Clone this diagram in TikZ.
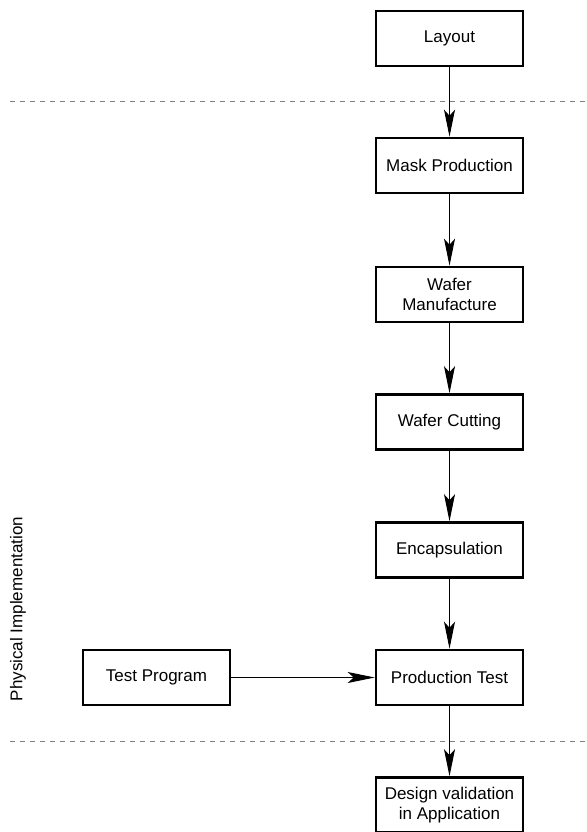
\documentclass[tikz,border=0pt]{standalone}
\usepackage{fontspec}
\setmainfont{Liberation Sans}
\usetikzlibrary{arrows.meta}
\begin{document}
\begin{tikzpicture}[x=1pt,y=-1pt,
  stage/.style={draw, line width=2.6pt, minimum width=147pt, minimum height=55pt,
    inner sep=2pt, align=center, font=\fontsize{17}{20}\selectfont},
  flow/.style={line width=1pt, -{Stealth[length=27pt,width=11pt,inset=6pt]}},
  divider/.style={gray, line width=1pt, dash pattern=on 5pt off 5pt}]
\useasboundingbox (0,0) rectangle (586,832);

% phase boundaries
\coordinate (d1a) at (10,102);
\coordinate (d1b) at (586,102);
\coordinate (d2a) at (10,741);
\coordinate (d2b) at (586,741);
\draw[divider] (d1a) -- (d1b);
\draw[divider] (d2a) -- (d2b);

% flow stages
\node[stage] (layout) at (449.5,38.5) {Layout};
\node[stage] (mask)   at (449.5,165.5) {Mask Production};
\node[stage] (wafer)  at (449.5,294.5) {Wafer\\Manufacture};
\node[stage] (cut)    at (449.5,422) {Wafer Cutting};
\node[stage] (encap)  at (449.5,550) {Encapsulation};
\node[stage] (ptest)  at (449.5,677.5) {Production Test};
\node[stage] (valid)  at (449.5,805) {Design validation\\in Application};
\node[stage] (tprog)  at (156.5,677.5) {Test Program};

% phase label
\node[rotate=90, font=\fontsize{17}{20}\selectfont] (phase) at (18,609) {Physical Implementation};

% connectors
\draw[flow] (layout) -- (mask);
\draw[flow] (mask) -- (wafer);
\draw[flow] (wafer) -- (cut);
\draw[flow] (cut) -- (encap);
\draw[flow] (encap) -- (ptest);
\draw[flow] (ptest) -- (valid);
\draw[flow] (tprog) -- (ptest);
\end{tikzpicture}
\end{document}
